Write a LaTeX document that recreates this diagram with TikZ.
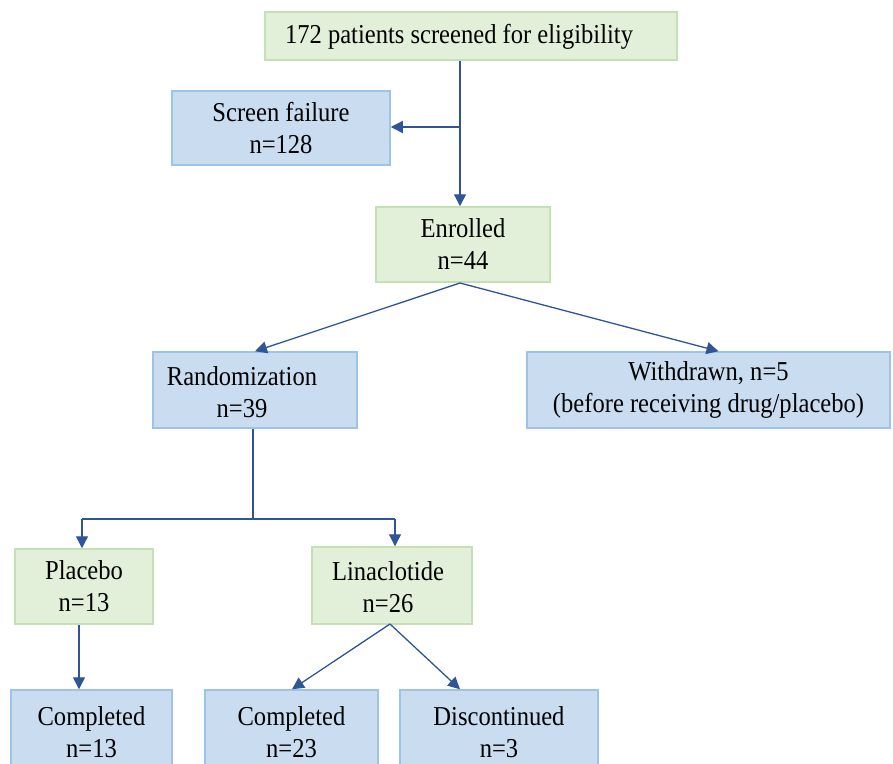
\documentclass[tikz,border=0pt]{standalone}
\usepackage{fontspec}
\setmainfont{Liberation Serif}[FakeStretch=0.9]
\usetikzlibrary{arrows.meta,calc}
\definecolor{gfill}{HTML}{E2F0D9}
\definecolor{gline}{HTML}{C5E0B4}
\definecolor{bfill}{HTML}{C9DCF0}
\definecolor{bline}{HTML}{9DC3E6}
\definecolor{arr}{HTML}{2F5597}
\tikzset{
  box/.style={rectangle, inner sep=0pt, align=center, line width=1.5pt,
    font=\fontsize{27.3}{32}\selectfont, text=black},
  gbox/.style={box, fill=gfill, draw=gline},
  bbox/.style={box, fill=bfill, draw=bline},
  txt/.style={inner sep=0pt, align=center, font=\fontsize{27.3}{32}\selectfont},
  conn/.style={draw=arr, line width=1.3pt},
  arrow/.style={conn, -{Triangle[length=12pt,width=12pt]}}
}
\begin{document}
\begin{tikzpicture}[x=1pt,y=-1pt]
\useasboundingbox (0,0) rectangle (893,763);
\clip (0,0) rectangle (893,763);
\fill[white] (0,0) rectangle (893,763);
\node[gbox, minimum width=412pt, minimum height=48pt] (top) at (471,36) {};
\node[txt] (toptxt) at (459,37) {172 patients screened for eligibility};
\node[bbox, minimum width=218pt, minimum height=74pt] (scr) at (281,128) {Screen failure\\n=128};
\node[gbox, minimum width=174pt, minimum height=75pt] (enr) at (463,244.5) {Enrolled\\n=44};
\node[bbox, minimum width=204pt, minimum height=76pt] (rand) at (255,390) {};
\node[txt] (randtxt) at (242,392) {Randomization\\n=39};
\node[bbox, minimum width=363pt, minimum height=76pt] (wd) at (708.5,390) {Withdrawn, n=5\\(before receiving drug/placebo)};
\node[gbox, minimum width=138pt, minimum height=75pt] (plac) at (84,586.5) {Placebo\\n=13};
\node[gbox, minimum width=160pt, minimum height=77pt] (lin) at (392,585.5) {};
\node[txt] (lintxt) at (388,587) {Linaclotide\\n=26};
\node[bbox, minimum width=161pt, minimum height=84pt] (c13) at (91.5,732) {Completed\\n=13};
\node[bbox, minimum width=173pt, minimum height=84pt] (c23) at (291.5,732) {Completed\\n=23};
\node[bbox, minimum width=198pt, minimum height=84pt] (dis) at (499,732) {Discontinued\\n=3};
% connectors
\coordinate (j1) at (460,127);
\draw[arrow] (top.south -| j1) -- (enr.north -| j1);
\draw[arrow] (j1) -- (scr.east |- j1);
\coordinate (e1) at (460,283);
\draw[arrow] (e1) -- (rand.north);
\draw[arrow] (e1) -- ($(wd.north)+(10,0)$);
\coordinate (r1) at (253,519);
\coordinate (p1) at (82,519);
\coordinate (l1) at (395,519);
\draw[conn] (rand.south -| r1) -- (r1);
\draw[arrow] (p1) -- (plac.north -| p1);
\draw[conn] (p1) -- (l1);
\draw[arrow] (l1) -- (lin.north -| l1);
\coordinate (pc) at (79,0);
\draw[arrow] (plac.south -| pc) -- (c13.north -| pc);
\coordinate (lc) at (390,624);
\draw[arrow] (lc) -- ($(c23.north)+(0.5,0)$);
\draw[arrow] (lc) -- ($(dis.north)+(-39,0)$);
\end{tikzpicture}
\end{document}
